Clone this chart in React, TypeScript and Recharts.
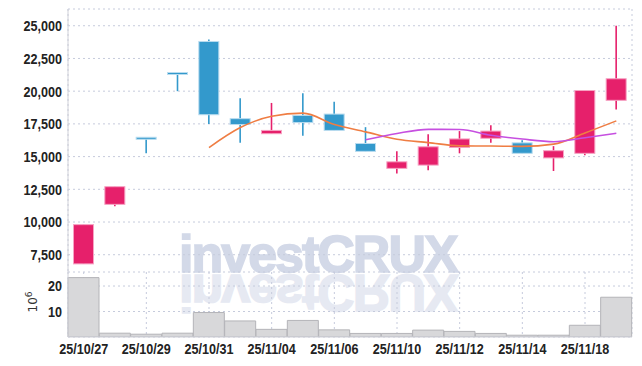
import { ComposedChart, BarChart, Bar, Line, XAxis, YAxis, CartesianGrid } from 'recharts'

const dates = [
  '25/10/27', '25/10/28', '25/10/29', '25/10/30', '25/10/31', '25/11/03',
  '25/11/04', '25/11/05', '25/11/06', '25/11/07', '25/11/10', '25/11/11',
  '25/11/12', '25/11/13', '25/11/14', '25/11/17', '25/11/18', '25/11/19',
]
const opens = [6800, 11350, 16400, 21350, 23800, 17900, 16750, 18150, 18250, 16000, 14100, 14350, 15700, 16400, 16050, 14900, 15250, 19300]
const closes = [9800, 12700, 16400, 21350, 18200, 17450, 17000, 17600, 17000, 15400, 14600, 15750, 16350, 16950, 15250, 15450, 20050, 20950]
const highs = [9800, 12700, 16400, 21350, 23950, 19450, 19100, 19850, 19200, 17250, 15400, 16700, 16950, 17400, 16250, 15800, 20050, 25000]
const lows = [6800, 11200, 15250, 20000, 17500, 16050, 16750, 16600, 17000, 15400, 13700, 13950, 15250, 16050, 15250, 13900, 15100, 18600]
const ma5 = [null, null, null, null, 15690, 17220, 18080, 18320, 17450, 16890, 16320, 16070, 15820, 15810, 15780, 15950, 16810, 17730]
const ma10 = [null, null, null, null, null, null, null, null, null, 16290, 16770, 17080, 17070, 16630, 16340, 16140, 16440, 16780]
const volumes = [23.3, 1.5, 1.1, 1.5, 9.6, 6.3, 3.0, 6.5, 2.8, 1.4, 1.4, 2.7, 2.2, 1.4, 0.7, 0.7, 4.6, 15.6]

const tickLabels = ['25/10/27', '25/10/29', '25/10/31', '25/11/04', '25/11/06', '25/11/10', '25/11/12', '25/11/14', '25/11/18']
const priceTicks = [7500, 10000, 12500, 15000, 17500, 20000, 22500, 25000]
const volumeTicks = [10, 20]

const UP = '#e6206b'
const UP_EDGE = '#f6a3c3'
const DOWN = '#3399cc'
const DOWN_EDGE = '#b9dcef'
const GRID = '#c6cbdc'
const BORDER = '#cfd0d8'

const data = dates.map((date, i) => ({
  date,
  open: opens[i],
  close: closes[i],
  high: highs[i],
  low: lows[i],
  ma5: ma5[i],
  ma10: ma10[i],
  vol: volumes[i],
}))

const FONT = '"Liberation Sans", Arial, sans-serif'

// narrow bold labels (no condensed font available, so squeeze horizontally)
const XTick = ({ x, y, payload }: any) => (
  <g transform={`translate(${x},${y})`}>
    <text transform="scale(0.84,1)" textAnchor="middle" dy="0.71em" fontFamily={FONT} fontWeight={700} fontSize={15} fill="#222">
      {payload.value}
    </text>
  </g>
)

const YTick = ({ x, y, payload }: any) => (
  <g transform={`translate(${x},${y})`}>
    <text transform="scale(0.84,1)" textAnchor="end" dy="0.355em" fontFamily={FONT} fontWeight={700} fontSize={15} fill="#222">
      {Number(payload.value).toLocaleString('en-US')}
    </text>
  </g>
)

const Candle = (props: any) => {
  const { x, y, width, height, payload } = props
  const { open, close, high, low } = payload
  const up = close > open
  const color = up ? UP : DOWN
  const edge = up ? UP_EDGE : DOWN_EDGE
  const h = Math.abs(height)
  const top = Math.min(y, y + height)
  const ratio = high === low ? 0 : h / (high - low)
  const yOf = (v: number) => top + (high - v) * ratio
  const cx = x + width / 2
  let bodyTop = yOf(Math.max(open, close))
  let bodyH = yOf(Math.min(open, close)) - bodyTop
  if (bodyH < 2) {
    bodyTop -= (2 - bodyH) / 2
    bodyH = 2
  }
  return (
    <g>
      <line x1={cx} x2={cx} y1={top} y2={top + h} stroke={color} strokeWidth={1.6} />
      <rect x={x + 0.5} y={bodyTop} width={width - 1} height={bodyH} fill={color} stroke={edge} strokeWidth={1} />
    </g>
  )
}

export default function App() {
  return (
    <div style={{ position: 'absolute', left: 0, top: 0, width: 642, height: 366, background: '#fff' }}>
      <svg width={642} height={366} style={{ position: 'absolute', left: 0, top: 0 }}>
        <text
          x={179}
          y={272}
          fontFamily={FONT}
          fontWeight={700}
          fontSize={52}
          letterSpacing={-2}
          fill="#d3d9e8"
          stroke="#d3d9e8"
          strokeWidth={1.6}
        >
          investCRUX
        </text>
        <text
          x={179}
          y={272}
          transform="translate(0 547) scale(1 -1)"
          fontFamily={FONT}
          fontWeight={700}
          fontSize={52}
          letterSpacing={-2}
          fill="#e6e9f2"
          stroke="#e6e9f2"
          strokeWidth={1.6}
        >
          investCRUX
        </text>
        <text
          transform="translate(37 302) rotate(-90)"
          textAnchor="middle"
          fontFamily="DejaVu Sans, sans-serif"
          fontSize={12}
          fill="#333"
        >
          10<tspan dy={-5} fontSize={9}>6</tspan>
        </text>
      </svg>

      <div style={{ position: 'absolute', left: 0, top: 0 }}>
        <ComposedChart width={642} height={272} data={data} margin={{ top: 9, right: 10, bottom: 0, left: 0 }}>
          <CartesianGrid stroke={GRID} strokeDasharray="2 3" />
          <XAxis dataKey="date" ticks={tickLabels} height={0} tick={false} tickLine={false} stroke={BORDER} />
          <XAxis xAxisId="top" dataKey="date" orientation="top" height={0} tick={false} tickLine={false} stroke={BORDER} />
          <YAxis
            domain={[6180, 26280]}
            ticks={priceTicks}
            width={68}
            tickLine={false}
            tickSize={6}
            tickMargin={0}
            stroke={BORDER}
            tick={<YTick />}
            allowDataOverflow
          />
          <YAxis yAxisId="right" orientation="right" width={0} domain={[0, 1]} tick={false} tickLine={false} stroke={BORDER} />
          <Bar dataKey={(d: any) => [d.low, d.high]} barSize={21} shape={Candle} isAnimationActive={false} />
          <Line type="monotone" dataKey="ma5" stroke="#ef7d43" strokeWidth={1.6} dot={false} isAnimationActive={false} />
          <Line type="monotone" dataKey="ma10" stroke="#c64fe0" strokeWidth={1.6} dot={false} isAnimationActive={false} />
        </ComposedChart>
      </div>

      <div style={{ position: 'absolute', left: 0, top: 272 }}>
        <BarChart width={642} height={94} data={data} barCategoryGap={0} margin={{ top: 0, right: 10, bottom: 0, left: 0 }}>
          <CartesianGrid stroke={GRID} strokeDasharray="2 3" />
          <XAxis
            dataKey="date"
            ticks={tickLabels}
            height={29}
            tickLine={false}
            tickSize={6}
            tickMargin={0}
            stroke={BORDER}
            tick={<XTick />}
          />
          <YAxis
            domain={[0, 25.5]}
            ticks={volumeTicks}
            width={68}
            tickLine={false}
            tickSize={6}
            tickMargin={0}
            stroke={BORDER}
            tick={<YTick />}
            allowDataOverflow
          />
          <YAxis yAxisId="right" orientation="right" width={0} domain={[0, 1]} tick={false} tickLine={false} stroke={BORDER} />
          <Bar dataKey="vol" fill="#d8d8da" stroke="#b4b4b8" strokeWidth={1} isAnimationActive={false} />
        </BarChart>
      </div>
    </div>
  )
}
